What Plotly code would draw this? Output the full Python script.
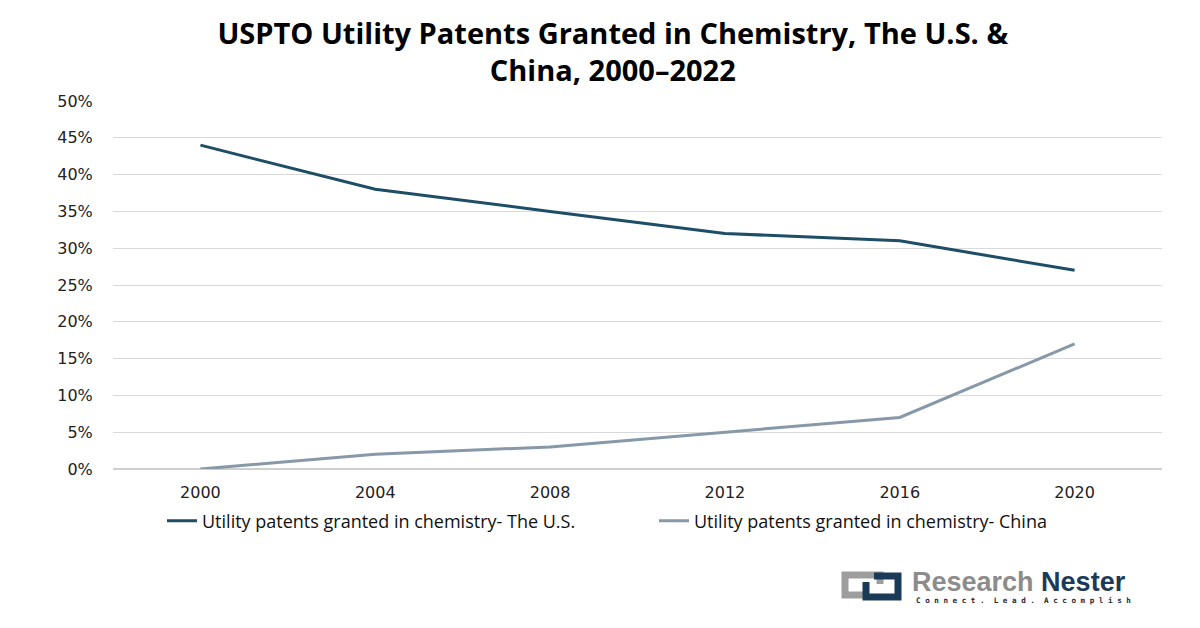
import plotly.graph_objects as go

years = ["2000", "2004", "2008", "2012", "2016", "2020"]
us_share = [0.44, 0.38, 0.35, 0.32, 0.31, 0.27]
china_share = [0.0, 0.02, 0.03, 0.05, 0.07, 0.17]
us_name = "Utility patents granted in chemistry- The U.S."
china_name = "Utility patents granted in chemistry- China"
title_text = "USPTO Utility Patents Granted in Chemistry, The U.S. &<br>China, 2000\u20132022"

# page offset (browser body margin) and plot-area geometry in figure pixels
OFF = 8
L, R, T, B = 105, 46, 93, 167
W, H = 1200, 628
PW, PH = W - L - R, H - T - B


def px(xs):
    return (xs - OFF - L) / PW


def py(ys):
    return (H - B - (ys - OFF)) / PH


fig = go.Figure()
fig.add_trace(go.Scatter(x=years, y=us_share, mode="lines", name=us_name,
                         line=dict(color="#1d4e66", width=3), legend="legend"))
fig.add_trace(go.Scatter(x=years, y=china_share, mode="lines", name=china_name,
                         line=dict(color="#8799a8", width=3), legend="legend2"))

legend_font = dict(family="Open Sans", size=18, color="#111111")
fig.update_layout(
    width=W, height=H,
    paper_bgcolor="white", plot_bgcolor="white",
    margin=dict(l=L, r=R, t=T, b=B, autoexpand=False),
    title=dict(text="<b>" + title_text + "</b>", x=0.504, xanchor="center",
               y=0.943, yanchor="top",
               font=dict(family="Open Sans", size=29, color="#000000")),
    xaxis=dict(type="category", range=[-0.5, 5.5], showgrid=False,
               showline=False, ticks="outside", ticklen=9, tickcolor="white",
               zeroline=False,
               tickfont=dict(family="DejaVu Sans", size=16, color="#222222")),
    yaxis=dict(range=[0, 0.5], dtick=0.05, tickformat=".0%",
               showgrid=True, gridcolor="#d9d9d9", gridwidth=1,
               zeroline=True, zerolinecolor="#cfcfcf", zerolinewidth=1.5,
               showline=False, ticks="outside", ticklen=16, tickcolor="white",
               tickfont=dict(family="DejaVu Sans", size=16, color="#222222")),
    legend=dict(orientation="h", x=px(162), xanchor="left", y=py(521), yanchor="middle",
                font=legend_font, itemwidth=30),
    legend2=dict(orientation="h", x=px(654), xanchor="left", y=py(521), yanchor="middle",
                 font=legend_font, itemwidth=30),
    showlegend=True,
)

# logo icon
grey_path = "M {},{} L {},{} L {},{} L {},{} L {},{}".format(
    px(868), py(595), px(845), py(595), px(845), py(575), px(880), py(575), px(880), py(584))
dark_path = "M {},{} L {},{} L {},{} L {},{} L {},{}".format(
    px(866), py(582), px(866), py(597), px(898), py(597), px(898), py(576), px(874), py(576))
fig.add_shape(type="path", xref="paper", yref="paper", path=grey_path,
              line=dict(color="#9d9d9d", width=7))
fig.add_shape(type="path", xref="paper", yref="paper", path=dark_path,
              line=dict(color="#1b3a57", width=7))
fig.add_annotation(xref="paper", yref="paper", x=px(910), y=py(582), xanchor="left", yanchor="middle",
                   text="<b><span style='color:#8c8c8c'>Research</span> <span style='color:#1b3a57'>Nester</span></b>",
                   showarrow=False, font=dict(family="Liberation Sans Narrow, Liberation Sans", size=27))
fig.add_annotation(xref="paper", yref="paper", x=px(914), y=py(600), xanchor="left", yanchor="middle",
                   text="<b>C o n n e c t .  L e a d .  A c c o m p l i s h</b>",
                   showarrow=False, font=dict(family="DejaVu Sans Mono", size=7.6, color="#1b2a3a"))

fig.write_html("out.html")
